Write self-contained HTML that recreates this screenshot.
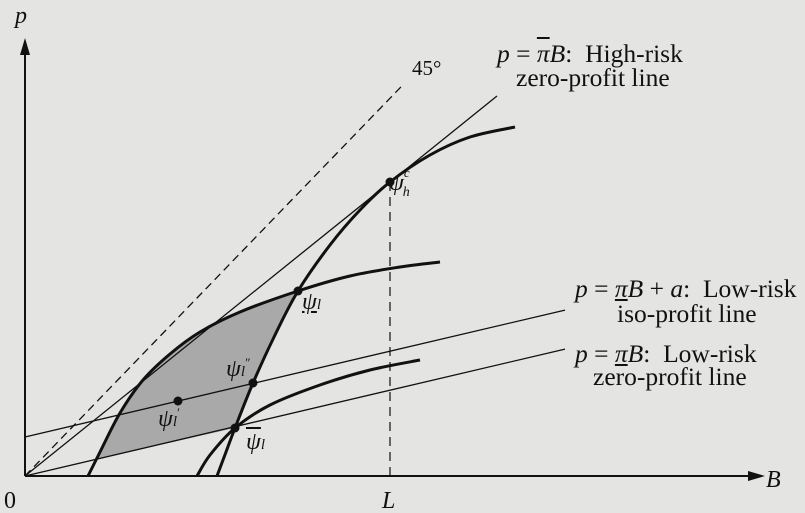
<!DOCTYPE html>
<html><head><meta charset="utf-8"><style>
html,body{margin:0;padding:0;background:#e4e4e2;}
#wrap{position:relative;width:805px;height:513px;overflow:hidden;font-family:"Liberation Serif",serif;color:#111;}
.lb{position:absolute;font-size:25.5px;white-space:nowrap;line-height:1;}
.ax{font-size:24px;}
i{font-style:italic;}
.ul{text-decoration:underline;}
.ol{text-decoration:overline;}
svg{position:absolute;left:0;top:0;}
</style></head><body>
<div id="wrap">
<svg id="svg" width="805" height="513"></svg>
<div class="lb ax" style="left:15px;top:4px"><i>p</i></div>
<div class="lb ax" style="left:766px;top:468px"><i>B</i></div>
<div class="lb ax" style="left:4px;top:489px">0</div>
<div class="lb ax" style="left:382px;top:489px"><i>L</i></div>
<div class="lb" style="left:412px;top:58px;font-size:21px">45°</div>
<div class="lb" style="left:497px;top:41px"><i>p</i> = <i class="ol">π</i><i>B</i>:&nbsp; High-risk</div>
<div class="lb" style="left:516px;top:65px">zero-profit line</div>
<div class="lb" style="left:575px;top:276px"><i>p</i> = <i class="ul">π</i><i>B</i> + <i>a</i>:&nbsp; Low-risk</div>
<div class="lb" style="left:617px;top:301px">iso-profit line</div>
<div class="lb" style="left:575px;top:341px"><i>p</i> = <i class="ul">π</i><i>B</i>:&nbsp; Low-risk</div>
<div class="lb" style="left:593px;top:364px">zero-profit line</div>
<div class="lb" style="left:389px;top:170px;font-size:24px"><i>ψ</i><sup style="font-size:13px;position:relative;top:-4px"><i>c</i></sup><sub style="font-size:14px;position:relative;left:-7px"><i>h</i></sub></div>
<div class="lb" style="left:302px;top:290px;font-size:24px"><i class="ul">ψ</i><i style="font-size:15px">l</i></div>
<div class="lb" style="left:226px;top:356px;font-size:24px"><i>ψ</i><i style="font-size:15px">l</i><sup style="font-size:13px">″</sup></div>
<div class="lb" style="left:158px;top:406px;font-size:24px"><i>ψ</i><i style="font-size:15px">l</i><sup style="font-size:13px">′</sup></div>
<div class="lb" style="left:246px;top:430px;font-size:24px"><i class="ol">ψ</i><i style="font-size:15px">l</i></div>
</div>
<script>
// data units: x0 = 0 at origin, y up
const highCurve = [[192,0],[201,24],[210,48],[228,93],[250,141],[273,185],[305,231],[335,266],[365,294],[405,321],[445,339],[490,349]];
const lowCurveUpper = [[63,0],[75,24],[95,63],[118,96],[145,122],[175,144],[215,164],[273,185],[325,200],[375,209],[415,214]];
const lowCurveLower = [[172,0],[185,21],[210,48],[245,71],[295,91],[345,106],[395,116]];
const highSlope = 0.805, highEnd = 472;
const isoIntercept = 39, lowSlope = 0.235, lowEnd = 540;
const diagEnd = 377;
const Lval = 365;
const points = [[365,294],[273,185],[228,93],[153,75],[210,48]];
const X = v => 25 + v, Y = v => 476 - v;
const svg = document.getElementById('svg');
const NS = 'http://www.w3.org/2000/svg';
function mk(tag, attrs){const e=document.createElementNS(NS,tag);for(const k in attrs)e.setAttribute(k,attrs[k]);svg.appendChild(e);return e;}
function smooth(pts){
  const p=pts.map(q=>[X(q[0]),Y(q[1])]);let d='M'+p[0][0]+','+p[0][1];
  for(let i=0;i<p.length-1;i++){const a=p[i-1]||p[i],b=p[i],c=p[i+1],e=p[i+2]||c;
    d+=' C'+(b[0]+(c[0]-a[0])/6)+','+(b[1]+(c[1]-a[1])/6)+' '+(c[0]-(e[0]-b[0])/6)+','+(c[1]-(e[1]-b[1])/6)+' '+c[0]+','+c[1];}
  return d;}
// shaded region
const lowZero = x => lowSlope*x;
const reg=[];
reg.push([72,lowZero(72)]);
lowCurveUpper.filter(q=>q[0]>72&&q[0]<273).forEach(q=>reg.push(q));
reg.push([273,185]);
highCurve.filter(q=>q[0]<273&&q[0]>210).reverse().forEach(q=>reg.push(q));
reg.push([210,48]);
let sh=mk('path',{d:'M'+reg.map(q=>X(q[0])+','+Y(q[1])).join(' L')+'Z',fill:'#a9a9a9',stroke:'none'});


// axes
let ax=mk('line',{x1:25,y1:476,x2:755,y2:476,stroke:'#111','stroke-width':2});


let ay=mk('line',{x1:25,y1:476,x2:25,y2:50,stroke:'#111','stroke-width':2});


mk('path',{d:'M20,55 L25,38 L30,55 Z',fill:'#111'});
mk('path',{d:'M748,471 L765,476 L748,481 Z',fill:'#111'});
// lines
let dg=mk('line',{x1:X(0),y1:Y(0),x2:X(diagEnd),y2:Y(diagEnd*1.035),stroke:'#111','stroke-width':1.3,'stroke-dasharray':'8,5'});


let hl=mk('line',{x1:X(0),y1:Y(0),x2:X(highEnd),y2:Y(highSlope*highEnd),stroke:'#111','stroke-width':1.3});


let il=mk('line',{x1:X(0),y1:Y(isoIntercept),x2:X(lowEnd),y2:Y(isoIntercept+lowSlope*lowEnd),stroke:'#111','stroke-width':1.3});


let zl=mk('line',{x1:X(0),y1:Y(0),x2:X(lowEnd),y2:Y(lowSlope*lowEnd),stroke:'#111','stroke-width':1.3});


let Ll=mk('line',{x1:X(Lval),y1:Y(294),x2:X(Lval),y2:Y(0),stroke:'#111','stroke-width':1.2,'stroke-dasharray':'9,6'});


// curves
let c1=mk('path',{d:smooth(highCurve),fill:'none',stroke:'#111','stroke-width':3});


let c2=mk('path',{d:smooth(lowCurveUpper),fill:'none',stroke:'#111','stroke-width':3});


let c3=mk('path',{d:smooth(lowCurveLower),fill:'none',stroke:'#111','stroke-width':3});


points.forEach(q=>{
  const c=mk('circle',{cx:X(q[0]),cy:Y(q[1]),r:4.5,fill:'#111'});
  
  
});
</script>
</body></html>
